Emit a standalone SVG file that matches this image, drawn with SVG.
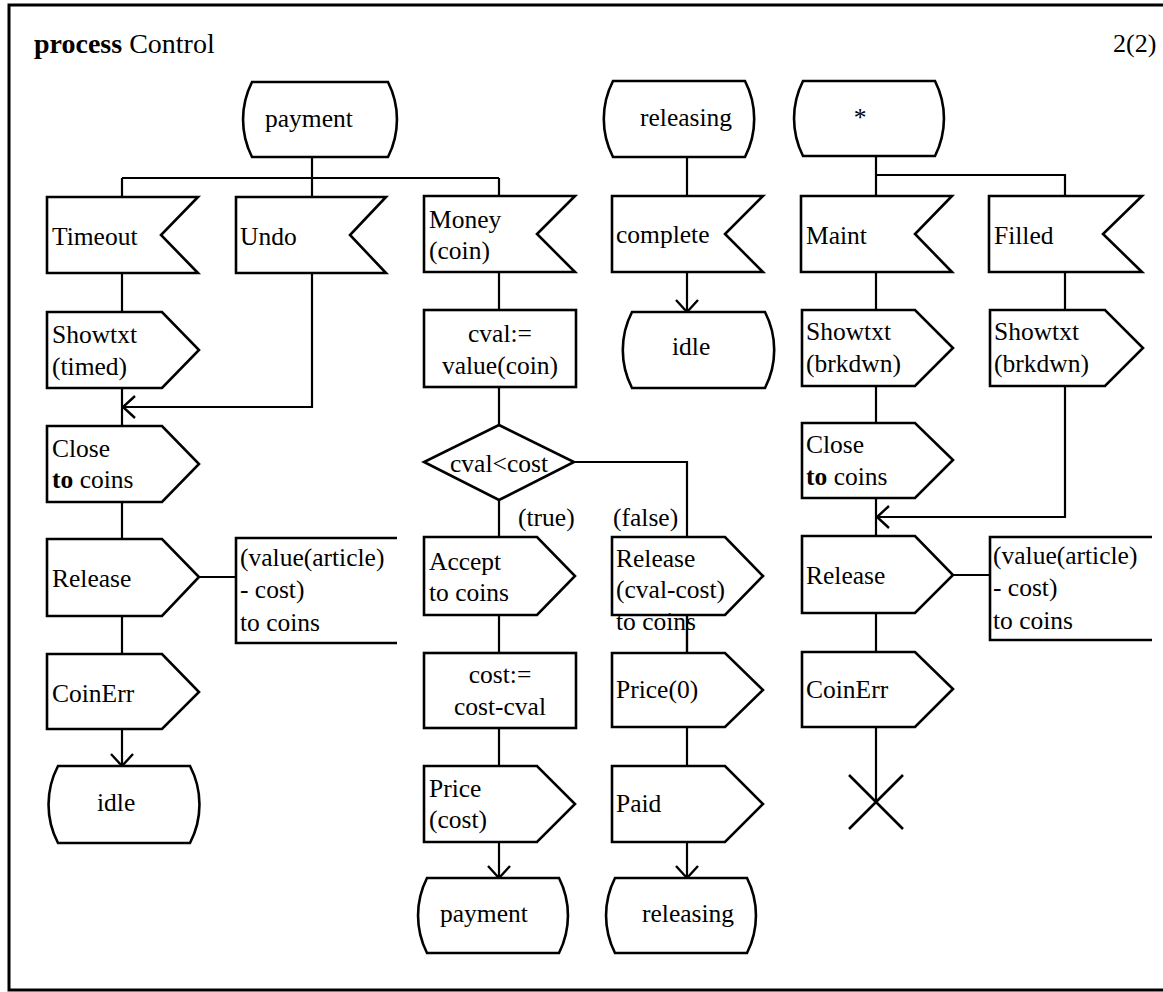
<svg xmlns="http://www.w3.org/2000/svg" width="1163" height="992" viewBox="0 0 1163 992">
  <style>
    .shape { fill: #ffffff; stroke: #000000; stroke-width: 2.6; stroke-linejoin: miter; }
    .line { fill: none; stroke: #000000; stroke-width: 2.2; }
    .frame { fill: none; stroke: #000000; stroke-width: 3; }
    text { font-family: "Liberation Serif", "Times New Roman", serif; font-size: 25.5px; fill: #000000; }
    .c { text-anchor: middle; }
    .b { font-weight: bold; }
  </style>
  <defs>
    <marker id="arrow" viewBox="-14 -13 16 26" refX="0" refY="0" markerWidth="16" markerHeight="26" markerUnits="userSpaceOnUse" orient="auto">
      <path d="M-12,-11 L0,0 L-12,11" fill="none" stroke="#000000" stroke-width="2.4"/>
    </marker>
  </defs>

  <rect x="0" y="0" width="1163" height="992" fill="#ffffff"/>

  <!-- page frame and heading -->
  <path class="frame" d="M1163,5 L9,5 L9,990 L1163,990"/>
  <text x="34" y="53" style="font-size:28px"><tspan class="b">process</tspan> Control</text>
  <text x="1113" y="52" style="font-size:26px">2(2)</text>

  <!-- connectors -->
  <g id="connectors">
    <!-- payment branch -->
    <path class="line" d="M312,157 V178 M122,178 H499 M122,178 V197 M312,178 V197 M499,178 V196"/>
    <path class="line" d="M122,273 V312 M122,388 V426"/>
    <path class="line" d="M312,273 V407 H123" marker-end="url(#arrow)"/>
    <path class="line" d="M122,502 V539 M199,577 H236 M122,616 V654"/>
    <path class="line" d="M122,729 V766" marker-end="url(#arrow)"/>
    <path class="line" d="M499,272 V310 M499,387 V425 M499,500 V537 M574,462 H687 V537"/>
    <path class="line" d="M499,615 V653 M499,728 V766 M687,615 V653 M687,727 V766"/>
    <path class="line" d="M499,842 V878" marker-end="url(#arrow)"/>
    <path class="line" d="M687,842 V878" marker-end="url(#arrow)"/>
    <!-- releasing branch -->
    <path class="line" d="M687,157 V196"/>
    <path class="line" d="M687,272 V312" marker-end="url(#arrow)"/>
    <!-- any-state branch -->
    <path class="line" d="M876,156 V175 M876,175 H1065 V196 M876,175 V196"/>
    <path class="line" d="M876,272 V310 M876,386 V423 M876,498 V536 M1065,272 V310"/>
    <path class="line" d="M1065,386 V517 H877" marker-end="url(#arrow)"/>
    <path class="line" d="M953,575 H990 M876,613 V652 M876,727 V802"/>
  </g>

  <!-- state: payment -->
  <g id="state-payment">
    <path class="shape" d="M252,82 H388 A83,83 0 0 1 388,157 H252 A83,83 0 0 1 252,82 Z"/>
    <text x="265" y="127">payment</text>
  </g>
  <!-- state: releasing -->
  <g id="state-releasing">
    <path class="shape" d="M613,81 H745 A83,83 0 0 1 745,157 H613 A83,83 0 0 1 613,81 Z"/>
    <text x="640" y="126">releasing</text>
  </g>
  <!-- state: any -->
  <g id="state-any">
    <path class="shape" d="M803,81 H935 A83,83 0 0 1 935,156 H803 A83,83 0 0 1 803,81 Z"/>
    <text x="860" y="126" class="c">*</text>
  </g>

  <!-- inputs -->
  <g id="in-timeout">
    <polygon class="shape" points="47,197 198,197 161,235 198,273 47,273"/>
    <text x="52" y="245">Timeout</text>
  </g>
  <g id="in-undo">
    <polygon class="shape" points="236,197 386,197 350,235 386,273 236,273"/>
    <text x="240" y="245">Undo</text>
  </g>
  <g id="in-money">
    <polygon class="shape" points="424,196 575,196 537,234 575,272 424,272"/>
    <text x="429" y="228">Money</text>
    <text x="429" y="259">(coin)</text>
  </g>
  <g id="in-complete">
    <polygon class="shape" points="612,196 763,196 725,234 763,272 612,272"/>
    <text x="616" y="243">complete</text>
  </g>
  <g id="in-maint">
    <polygon class="shape" points="801,196 952,196 915,234 952,272 801,272"/>
    <text x="806" y="244">Maint</text>
  </g>
  <g id="in-filled">
    <polygon class="shape" points="989,196 1142,196 1103,234 1142,272 989,272"/>
    <text x="994" y="244">Filled</text>
  </g>

  <!-- timeout column -->
  <g id="out-showtxt-timed">
    <polygon class="shape" points="47,312 162,312 199,350 162,388 47,388"/>
    <text x="52" y="343">Showtxt</text>
    <text x="52" y="375">(timed)</text>
  </g>
  <g id="out-close-left">
    <polygon class="shape" points="47,426 162,426 199,464 162,502 47,502"/>
    <text x="52" y="457">Close</text>
    <text x="52" y="488"><tspan class="b">to</tspan> coins</text>
  </g>
  <g id="out-release-left">
    <polygon class="shape" points="47,539 162,539 199,577 162,616 47,616"/>
    <text x="52" y="587">Release</text>
  </g>
  <g id="ext-release-left">
    <path class="line" style="stroke-width:2.6" d="M397,538 H236 V643 H397"/>
    <text x="240" y="566">(value(article)</text>
    <text x="240" y="598">- cost)</text>
    <text x="240" y="631">to coins</text>
  </g>
  <g id="out-coinerr-left">
    <polygon class="shape" points="47,654 162,654 199,692 162,729 47,729"/>
    <text x="52" y="702">CoinErr</text>
  </g>
  <g id="state-idle-left">
    <path class="shape" d="M58,766 H190 A83,83 0 0 1 190,843 H58 A83,83 0 0 1 58,766 Z"/>
    <text x="97" y="811">idle</text>
  </g>

  <!-- money column -->
  <g id="task-cval">
    <rect class="shape" x="424" y="310" width="152" height="77"/>
    <text x="500" y="342" class="c">cval:=</text>
    <text x="500" y="374" class="c">value(coin)</text>
  </g>
  <g id="decision-cval">
    <polygon class="shape" points="499,425 574,462 499,500 424,462"/>
    <text x="499" y="472" class="c">cval&lt;cost</text>
  </g>
  <text x="518" y="526">(true)</text>
  <text x="613" y="526">(false)</text>
  <g id="out-accept">
    <polygon class="shape" points="424,537 537,537 575,576 537,615 424,615"/>
    <text x="429" y="570">Accept</text>
    <text x="429" y="601">to coins</text>
  </g>
  <g id="task-cost">
    <rect class="shape" x="424" y="653" width="152" height="75"/>
    <text x="500" y="683" class="c">cost:=</text>
    <text x="500" y="715" class="c">cost-cval</text>
  </g>
  <g id="out-price-cost">
    <polygon class="shape" points="424,766 537,766 575,804 537,842 424,842"/>
    <text x="429" y="797">Price</text>
    <text x="429" y="828">(cost)</text>
  </g>
  <g id="state-payment-next">
    <path class="shape" d="M427,878 H559 A83,83 0 0 1 559,953 H427 A83,83 0 0 1 427,878 Z"/>
    <text x="440" y="922">payment</text>
  </g>

  <g id="out-release-change">
    <polygon class="shape" points="612,537 725,537 763,576 725,615 612,615"/>
    <text x="616" y="567">Release</text>
    <text x="616" y="598">(cval-cost)</text>
    <text x="616" y="630">to coins</text>
  </g>
  <path class="line" d="M687,615 V653"/>
  <g id="out-price-zero">
    <polygon class="shape" points="612,653 725,653 763,690 725,727 612,727"/>
    <text x="616" y="698">Price(0)</text>
  </g>
  <g id="out-paid">
    <polygon class="shape" points="612,766 725,766 763,804 725,842 612,842"/>
    <text x="616" y="812">Paid</text>
  </g>
  <g id="state-releasing-next">
    <path class="shape" d="M615,878 H747 A83,83 0 0 1 747,953 H615 A83,83 0 0 1 615,878 Z"/>
    <text x="642" y="922">releasing</text>
  </g>

  <!-- releasing column -->
  <g id="state-idle-mid">
    <path class="shape" d="M632,312 H765 A83,83 0 0 1 765,388 H632 A83,83 0 0 1 632,312 Z"/>
    <text x="672" y="355">idle</text>
  </g>

  <!-- maintenance column -->
  <g id="out-showtxt-maint">
    <polygon class="shape" points="802,310 915,310 953,348 915,386 802,386"/>
    <text x="806" y="340">Showtxt</text>
    <text x="806" y="372">(brkdwn)</text>
  </g>
  <g id="out-showtxt-filled">
    <polygon class="shape" points="990,310 1105,310 1143,348 1105,386 990,386"/>
    <text x="994" y="340">Showtxt</text>
    <text x="994" y="372">(brkdwn)</text>
  </g>
  <g id="out-close-right">
    <polygon class="shape" points="802,423 915,423 953,460 915,498 802,498"/>
    <text x="806" y="453">Close</text>
    <text x="806" y="485"><tspan class="b">to</tspan> coins</text>
  </g>
  <g id="out-release-right">
    <polygon class="shape" points="802,536 915,536 953,575 915,613 802,613"/>
    <text x="806" y="584">Release</text>
  </g>
  <g id="ext-release-right">
    <path class="line" style="stroke-width:2.6" d="M1152,537 H990 V640 H1152"/>
    <text x="993" y="564">(value(article)</text>
    <text x="993" y="596">- cost)</text>
    <text x="993" y="629">to coins</text>
  </g>
  <g id="out-coinerr-right">
    <polygon class="shape" points="802,652 915,652 953,689 915,727 802,727"/>
    <text x="806" y="698">CoinErr</text>
  </g>
  <g id="stop">
    <path class="line" style="stroke-width:2.6" d="M849,775 L903,829 M903,775 L849,829"/>
  </g>
</svg>
